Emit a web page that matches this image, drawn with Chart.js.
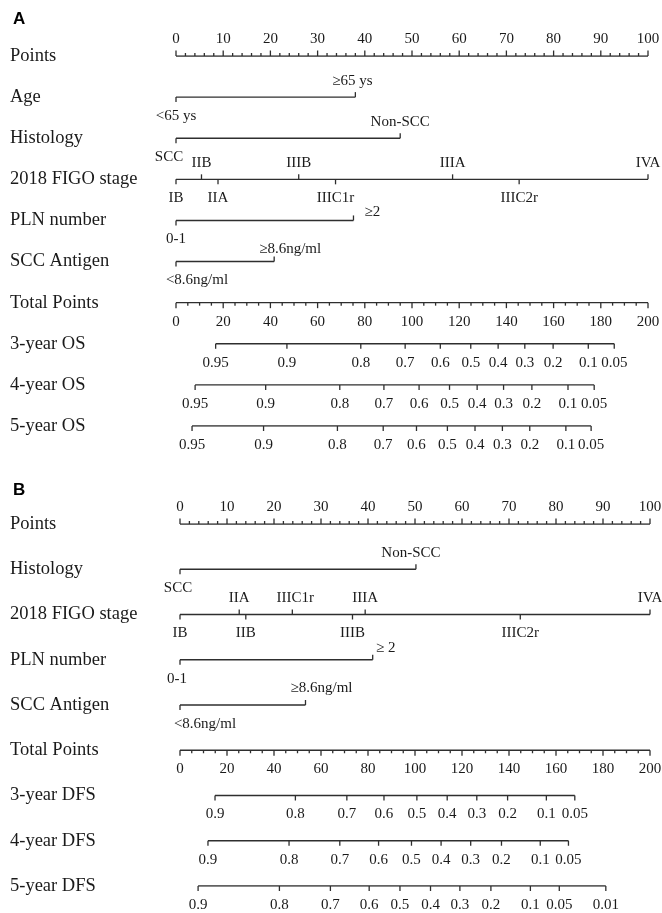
<!DOCTYPE html>
<html>
<head>
<meta charset="utf-8">
<script src="https://cdn.jsdelivr.net/npm/chart.js@4.4.1/dist/chart.umd.min.js"></script>
<style>
  html, body { margin: 0; padding: 0; background: #fff; }
  #wrap { position: relative; width: 662px; height: 913px; background: #fff; }
  .panel { position: absolute; left: 0; width: 662px; }
</style>
</head>
<body>
<div id="wrap">
  <div class="panel" style="top:0;height:460px"><canvas id="chartA"></canvas></div>
  <div class="panel" style="top:460px;height:453px"><canvas id="chartB"></canvas></div>
</div>
<script>
// ---------- shared axes ----------
const pointTicks = [0, 10, 20, 30, 40, 50, 60, 70, 80, 90, 100];
const totalTicks = [0, 20, 40, 60, 80, 100, 120, 140, 160, 180, 200];

// ---------- Panel A: overall survival ----------
const rowsA = ['Points', 'Age', 'Histology', '2018 FIGO stage', 'PLN number',
  'SCC Antigen', 'Total Points', '3-year OS', '4-year OS', '5-year OS'];

const ageLevels = ['<65 ys', '≥65 ys'];
const agePointsA = [0, 38];
const histLevels = ['SCC', 'Non-SCC'];
const histPointsA = [0, 47.5];
const figoLevelsA = ['IB', 'IIB', 'IIA', 'IIIB', 'IIIC1r', 'IIIA', 'IIIC2r', 'IVA'];
const figoPointsA = [0, 5.4, 8.9, 26, 33.8, 58.6, 72.7, 100];
const plnLevelsA = ['0-1', '≥2'];
const plnPointsA = [0, 37.6];
const sccLevels = ['<8.6ng/ml', '≥8.6ng/ml'];
const sccPointsA = [0, 20.8];

const osProbs = ['0.95', '0.9', '0.8', '0.7', '0.6', '0.5', '0.4', '0.3', '0.2', '0.1', '0.05'];
const os3Total = [16.8, 47.0, 78.3, 97.1, 112.0, 124.9, 136.5, 147.8, 159.8, 174.7, 185.7];
const os4Total = [8.1, 38.0, 69.4, 88.1, 103.0, 115.9, 127.6, 138.8, 150.8, 166.1, 177.2];
const os5Total = [6.8, 37.1, 68.4, 87.8, 101.9, 115.0, 126.7, 138.3, 149.9, 165.2, 175.9];

// ---------- Panel B: disease-free survival ----------
const rowsB = ['Points', 'Histology', '2018 FIGO stage', 'PLN number',
  'SCC Antigen', 'Total Points', '3-year DFS', '4-year DFS', '5-year DFS'];

const histPointsB = [0, 50.2];
const figoLevelsB = ['IB', 'IIA', 'IIB', 'IIIC1r', 'IIIB', 'IIIA', 'IIIC2r', 'IVA'];
const figoPointsB = [0, 12.6, 14.0, 23.9, 36.7, 39.4, 72.4, 100];
const plnLevelsB = ['0-1', '≥ 2'];
const plnPointsB = [0, 41];
const sccPointsB = [0, 26.7];

const dfsProbs = ['0.9', '0.8', '0.7', '0.6', '0.5', '0.4', '0.3', '0.2', '0.1', '0.05'];
const dfs5Probs = ['0.9', '0.8', '0.7', '0.6', '0.5', '0.4', '0.3', '0.2', '0.1', '0.05', '0.01'];
const dfs3Total = [14.9, 49.1, 71.0, 86.8, 100.8, 113.7, 126.3, 139.4, 155.9, 168.0];
const dfs4Total = [11.9, 46.4, 68.0, 84.5, 98.5, 111.1, 123.7, 136.8, 153.3, 165.3];
const dfs5Total = [7.7, 42.3, 64.0, 80.5, 93.6, 106.6, 119.1, 132.3, 149.1, 161.4, 181.2];

// ---------- styling ----------
const SERIF = '"Liberation Serif", "Times New Roman", serif';
const LINE = '#2e2e2e';
const TEXT = '#1a1a1a';
// small label shifts [dx, dy] in pixels, per panel
const nudgeA = { 'SCC': [-7, 0], '≥65 ys': [-3, 0], '≥2': [19, 8], '≥8.6ng/ml': [16, 4], '<8.6ng/ml': [21, 0] };
const nudgeB = { 'SCC': [-2, 0], 'Non-SCC': [-5, 0], 'IIIC1r': [3, 0], '≥ 2': [13, 5], '0-1': [-3, 0],
  '≥8.6ng/ml': [16, 0], '<8.6ng/ml': [25, 0] };

// ---------- row builders ----------
function pointsRow() {
  return { row: 'Points', axis: 'x', kind: 'scale', side: 'up', major: pointTicks, minorStep: 2 };
}
function totalRow() {
  return { row: 'Total Points', axis: 'xt', kind: 'scale', side: 'down', major: totalTicks, minorStep: 5 };
}
function factorRow(row, levels, pts) {
  const marks = levels.map((t, i) => ({ v: pts[i], text: t }));
  const order = marks.slice().sort((a, b) => a.v - b.v);
  order.forEach((m, i) => { m.side = i % 2 === 0 ? 'down' : 'up'; });
  return { row, axis: 'x', kind: 'factor', marks };
}
function probRow(row, probs, totals) {
  return { row, axis: 'xt', kind: 'factor', marks: probs.map((t, i) => ({ v: totals[i], text: t, side: 'down' })) };
}

const specA = [
  pointsRow(),
  factorRow('Age', ageLevels, agePointsA),
  factorRow('Histology', histLevels, histPointsA),
  factorRow('2018 FIGO stage', figoLevelsA, figoPointsA),
  factorRow('PLN number', plnLevelsA, plnPointsA),
  factorRow('SCC Antigen', sccLevels, sccPointsA),
  totalRow(),
  probRow('3-year OS', osProbs, os3Total),
  probRow('4-year OS', osProbs, os4Total),
  probRow('5-year OS', osProbs, os5Total)
];
const specB = [
  pointsRow(),
  factorRow('Histology', histLevels, histPointsB),
  factorRow('2018 FIGO stage', figoLevelsB, figoPointsB),
  factorRow('PLN number', plnLevelsB, plnPointsB),
  factorRow('SCC Antigen', sccLevels, sccPointsB),
  totalRow(),
  probRow('3-year DFS', dfsProbs, dfs3Total),
  probRow('4-year DFS', dfsProbs, dfs4Total),
  probRow('5-year DFS', dfs5Probs, dfs5Total)
];

// one horizontal line per row, spanning its own values
function rowDatasets(spec) {
  return spec.map(r => {
    let vals;
    if (r.kind === 'scale') vals = r.major;
    else vals = r.marks.map(m => m.v);
    const lo = Math.min(...vals), hi = Math.max(...vals);
    return {
      label: r.row,
      xAxisID: r.axis,
      yAxisID: 'y',
      data: [{ x: lo, y: r.row }, { x: hi, y: r.row }],
      borderColor: LINE,
      borderWidth: 1.4,
      pointRadius: 0,
      fill: false,
      tension: 0
    };
  });
}

// tick marks and value labels along each row
const nomogramPlugin = {
  id: 'nomogram',
  afterDatasetsDraw(chart, args, opts) {
    const ctx = chart.ctx;
    const yS = chart.scales.y;
    const labels = yS.getLabels();
    ctx.save();
    ctx.strokeStyle = LINE;
    ctx.lineWidth = 1.3;
    ctx.fillStyle = TEXT;
    ctx.font = '15px ' + SERIF;
    ctx.textAlign = 'center';
    ctx.textBaseline = 'middle';
    const ABOVE = 16.5, BELOW = 19;
    opts.spec.forEach(r => {
      const sc = chart.scales[r.axis];
      const y = yS.getPixelForValue(labels.indexOf(r.row));
      const dir = s => (s === 'up' ? -1 : 1);
      if (r.kind === 'scale') {
        const d = dir(r.side);
        for (let v = sc.min; v <= sc.max + 1e-9; v += r.minorStep) {
          const isMajor = r.major.includes(v);
          const x = sc.getPixelForValue(v);
          ctx.beginPath();
          ctx.moveTo(x, y);
          ctx.lineTo(x, y + d * (isMajor ? 5.5 : 3));
          ctx.stroke();
        }
        r.major.forEach(v => {
          const x = sc.getPixelForValue(v);
          ctx.fillText(String(v), x, y + (r.side === 'up' ? -ABOVE : BELOW));
        });
      } else {
        r.marks.forEach(m => {
          const x = sc.getPixelForValue(m.v);
          const d = dir(m.side);
          ctx.beginPath();
          ctx.moveTo(x, y);
          ctx.lineTo(x, y + d * 5);
          ctx.stroke();
          const n = (opts.nudge[m.text]) || [0, 0];
          ctx.fillText(m.text, x + n[0], y + (m.side === 'up' ? -ABOVE : BELOW) + n[1]);
        });
      }
    });
    // panel letter
    ctx.font = 'bold 17px "Liberation Sans", Arial, sans-serif';
    ctx.textAlign = 'left';
    ctx.fillStyle = '#000';
    ctx.fillText(opts.letter, 13, opts.letterY);
    ctx.restore();
  }
};

function makeChart(id, rows, spec, cfg) {
  return new Chart(document.getElementById(id), {
    type: 'line',
    data: { datasets: rowDatasets(spec) },
    plugins: [nomogramPlugin],
    options: {
      responsive: true,
      maintainAspectRatio: false,
      animation: false,
      events: [],
      layout: { padding: { left: 10, right: cfg.right, top: cfg.top, bottom: cfg.bottom } },
      scales: {
        x: { type: 'linear', min: 0, max: 100, display: false },
        xt: { type: 'linear', axis: 'x', min: 0, max: 200, display: false },
        y: {
          type: 'category',
          labels: rows,
          offset: false,
          grid: { display: false, drawTicks: false },
          border: { display: false },
          ticks: {
            autoSkip: false,
            crossAlign: 'far',
            padding: 0,
            color: TEXT,
            font: { family: SERIF, size: 18.5 }
          },
          afterFit(scale) { scale.width = cfg.axisWidth; }
        }
      },
      plugins: {
        legend: { display: false },
        tooltip: { enabled: false },
        title: { display: false },
        nomogram: { spec, nudge: cfg.nudge, letter: cfg.letter, letterY: cfg.letterY }
      }
    }
  });
}

makeChart('chartA', rowsA, specA, { top: 56, bottom: 34, right: 14, axisWidth: 166, nudge: nudgeA, letter: 'A', letterY: 19 });
makeChart('chartB', rowsB, specB, { top: 64, bottom: 27, right: 12, axisWidth: 170, nudge: nudgeB, letter: 'B', letterY: 30 });
</script>
</body>
</html>
